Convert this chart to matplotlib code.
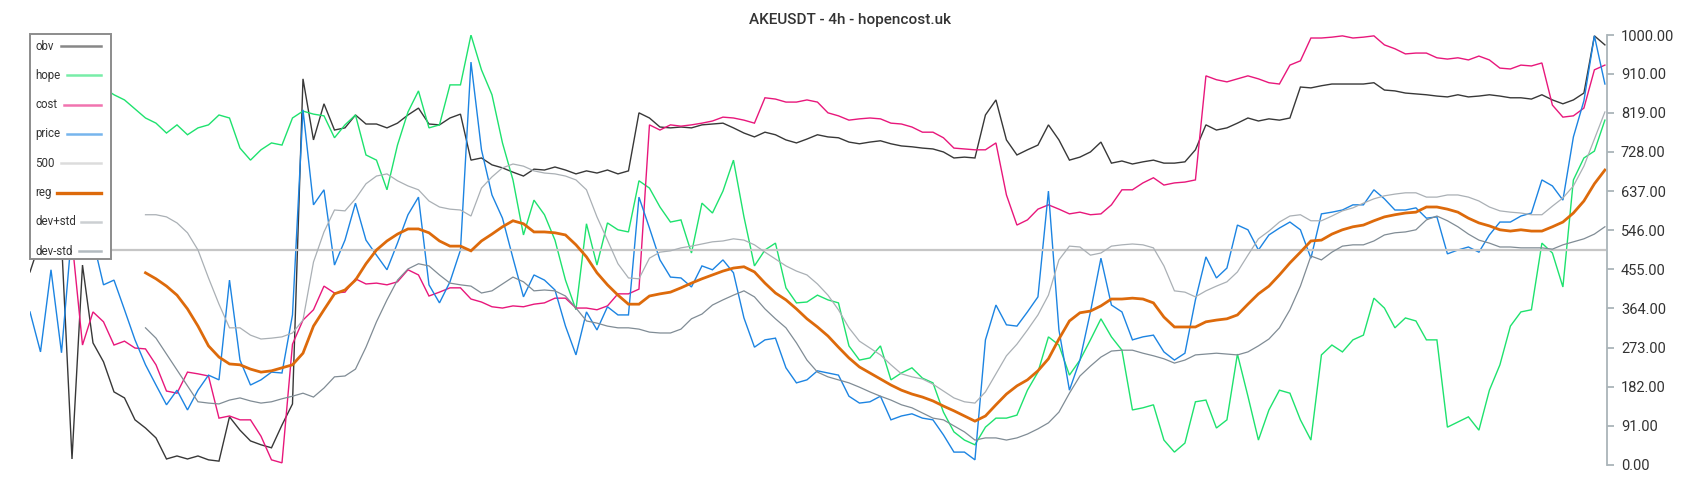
import numpy as np
import matplotlib
matplotlib.use("Agg")
import matplotlib.pyplot as plt
from matplotlib.patches import Rectangle
from matplotlib.lines import Line2D

nan = np.nan

title = "AKEUSDT - 4h - hopencost.uk"

obv = [449, 523, 535, 523, 14, 465, 284, 240, 170, 156,
       105, 86, 63, 14, 21, 14, 21, 12, 9, 112,
       81, 56, 47, 40, 93, 142, 898, 756, 840, 779,
       784, 814, 793, 793, 784, 795, 814, 830, 793, 791,
       807, 816, 709, 714, 698, 691, 681, 672, 688, 686,
       693, 686, 677, 684, 679, 686, 677, 684, 819, 807,
       786, 784, 786, 784, 791, 793, 795, 784, 772, 763,
       774, 768, 756, 749, 758, 768, 763, 761, 751, 747,
       751, 754, 747, 742, 740, 737, 735, 728, 714, 716,
       714, 814, 849, 756, 721, 733, 744, 791, 756, 709,
       716, 728, 751, 702, 707, 700, 705, 709, 702, 702,
       705, 733, 791, 779, 784, 795, 807, 800, 805, 802,
       807, 879, 877, 882, 886, 886, 886, 886, 889, 872,
       870, 865, 863, 861, 858, 856, 861, 856, 858, 861,
       858, 854, 854, 851, 861, 849, 840, 849, 865, 998,
       977]

hope = [919, 907, 896, 907, 884, 896, 884, 877, 861, 849,
        828, 807, 795, 772, 791, 768, 784, 791, 814, 807,
        737, 709, 733, 749, 744, 807, 823, 816, 812, 761,
        791, 814, 721, 709, 640, 744, 821, 870, 784, 791,
        884, 884, 1000, 919, 861, 749, 663, 535, 616, 582,
        523, 430, 361, 561, 465, 563, 547, 542, 661, 644,
        600, 565, 570, 493, 609, 586, 637, 709, 577, 463,
        500, 516, 412, 377, 379, 395, 384, 377, 277, 244,
        249, 277, 198, 214, 226, 202, 191, 123, 77, 58,
        47, 88, 109, 109, 116, 174, 216, 298, 279, 209,
        244, 291, 340, 298, 267, 128, 133, 140, 58, 30,
        51, 147, 151, 86, 105, 258, 160, 58, 128, 174,
        167, 105, 58, 256, 279, 263, 291, 302, 388, 365,
        319, 342, 335, 291, 291, 88, 100, 112, 81, 174,
        233, 323, 356, 361, 516, 493, 414, 663, 714, 730,
        802]

cost = [620, 610, 620, 600, 523, 279, 356, 333, 279, 288,
        272, 270, 233, 172, 167, 216, 212, 207, 109, 114,
        105, 105, 67, 12, 5, 281, 337, 361, 416, 400,
        402, 433, 421, 423, 419, 426, 454, 442, 393, 402,
        412, 412, 386, 379, 368, 365, 370, 368, 374, 377,
        388, 388, 365, 365, 361, 370, 398, 398, 409, 791,
        779, 791, 788, 791, 795, 800, 809, 807, 802, 795,
        854, 851, 844, 844, 849, 844, 819, 812, 802, 805,
        807, 805, 795, 793, 786, 774, 774, 761, 737, 735,
        733, 733, 749, 628, 558, 570, 595, 605, 595, 584,
        588, 582, 584, 605, 640, 640, 656, 668, 651, 656,
        658, 663, 905, 896, 891, 898, 905, 898, 889, 886,
        930, 940, 993, 993, 995, 998, 993, 995, 998, 977,
        968, 956, 958, 958, 947, 944, 947, 942, 951, 942,
        923, 921, 930, 928, 935, 837, 809, 812, 830, 919,
        930]

price = [356, 263, 454, 261, 547, 523, 523, 419, 430, 361,
         291, 233, 186, 140, 174, 128, 174, 209, 198, 430,
         244, 186, 198, 216, 214, 349, 826, 605, 640, 465,
         523, 609, 523, 488, 454, 516, 582, 623, 419, 377,
         426, 500, 937, 733, 628, 574, 481, 391, 442, 430,
         407, 323, 256, 356, 314, 368, 349, 349, 623, 551,
         477, 437, 435, 414, 463, 454, 477, 447, 342, 274,
         291, 295, 226, 191, 198, 219, 214, 209, 160, 144,
         147, 160, 105, 114, 119, 109, 105, 70, 30, 30,
         12, 291, 372, 326, 323, 356, 391, 637, 314, 174,
         244, 356, 481, 372, 356, 291, 298, 302, 263, 244,
         260, 384, 484, 435, 458, 558, 547, 500, 535, 551,
         565, 547, 481, 584, 588, 593, 605, 605, 640, 619,
         593, 593, 598, 574, 577, 491, 500, 507, 495, 535,
         565, 565, 579, 586, 663, 649, 616, 763, 847, 998,
         886]

level_500 = 500

reg = [nan, nan, nan, nan, nan, nan, nan, nan, nan, nan,
       nan, 447, 433, 416, 395, 363, 323, 277, 251, 235,
       233, 223, 216, 219, 226, 233, 260, 323, 361, 398,
       407, 430, 468, 500, 521, 537, 549, 549, 540, 521,
       509, 509, 498, 521, 537, 554, 568, 561, 542, 542,
       540, 535, 512, 484, 447, 419, 395, 374, 374, 393,
       398, 402, 412, 423, 433, 442, 451, 458, 461, 449,
       423, 400, 384, 363, 340, 321, 300, 274, 249, 228,
       214, 200, 186, 174, 165, 158, 149, 137, 126, 114,
       102, 114, 140, 165, 184, 198, 219, 247, 293, 335,
       354, 358, 370, 386, 386, 388, 386, 377, 344, 321,
       321, 321, 333, 337, 340, 349, 374, 398, 416, 442,
       470, 495, 521, 523, 537, 547, 554, 558, 568, 577,
       582, 586, 588, 600, 600, 595, 588, 574, 563, 556,
       547, 544, 547, 544, 544, 554, 565, 586, 614, 654,
       686]

dev_plus_std = [nan, nan, nan, nan, nan, nan, nan, nan, nan, nan,
                nan, 582, 582, 577, 563, 540, 500, 435, 374, 319,
                319, 302, 293, 295, 298, 307, 337, 472, 542, 593,
                591, 619, 654, 672, 677, 661, 649, 640, 614, 600,
                595, 593, 579, 644, 670, 691, 700, 695, 684, 679,
                677, 672, 663, 640, 577, 523, 468, 435, 433, 481,
                495, 498, 505, 509, 514, 519, 521, 526, 523, 512,
                495, 479, 463, 451, 442, 421, 395, 361, 319, 288,
                272, 256, 233, 212, 205, 200, 188, 172, 156, 147,
                144, 170, 212, 254, 281, 314, 349, 395, 477, 509,
                507, 488, 493, 509, 512, 514, 512, 505, 463, 405,
                402, 391, 405, 416, 426, 449, 488, 526, 544, 565,
                579, 582, 568, 568, 579, 591, 598, 609, 619, 626,
                630, 633, 633, 623, 623, 628, 628, 623, 614, 600,
                591, 588, 586, 582, 582, 602, 621, 649, 695, 758,
                821]

dev_minus_std = [nan, nan, nan, nan, nan, nan, nan, nan, nan, nan,
                 nan, 319, 295, 258, 221, 184, 147, 144, 142, 151,
                 156, 149, 144, 147, 154, 160, 167, 158, 179, 205,
                 207, 223, 274, 333, 384, 430, 456, 468, 463, 442,
                 423, 419, 416, 400, 405, 421, 437, 426, 405, 407,
                 405, 393, 365, 335, 330, 323, 319, 319, 316, 309,
                 307, 307, 316, 340, 351, 372, 384, 395, 405, 391,
                 363, 340, 319, 284, 244, 216, 205, 198, 191, 181,
                 170, 160, 151, 140, 133, 121, 109, 105, 91, 77,
                 58, 63, 63, 58, 63, 72, 84, 98, 123, 167,
                 207, 230, 251, 265, 267, 267, 260, 254, 247, 237,
                 244, 256, 258, 260, 258, 256, 263, 277, 293, 319,
                 361, 416, 486, 477, 495, 509, 512, 512, 521, 535,
                 540, 542, 547, 570, 579, 568, 554, 537, 523, 516,
                 507, 507, 505, 505, 505, 502, 512, 519, 526, 537,
                 554]

y_ticks = [0, 91, 182, 273, 364, 455, 546, 637, 728, 819, 910, 1000]
legend_labels = ["obv", "hope", "cost", "price", "500", "reg", "dev+std", "dev-std"]

plt.rcParams['font.family'] = ['Roboto', 'DejaVu Sans']

fig = plt.figure(figsize=(17, 5), dpi=100)
fig.patch.set_facecolor("white")
ax = fig.add_axes([30 / 1700, 35 / 500, (1607 - 30) / 1700, 430 / 500])

x = np.arange(len(price))
styles = [
    (obv, "#383838", 1.0),
    (hope, "#1ee26e", 1.0),
    (cost, "#e8177b", 1.0),
    (price, "#1c84e2", 1.0),
    ([level_500] * len(x), "#c6c6c6", 1.6),
    (reg, "#dd6a0b", 2.0),
    (dev_plus_std, "#aab0b5", 0.9),
    (dev_minus_std, "#808c95", 0.9),
]
for data, col, lw in styles:
    ax.plot(x, data, color=col, lw=lw, solid_joinstyle="miter")

ax.set_xlim(0, len(x) - 1 + 0.2)
ax.set_ylim(0, 1000)
ax.set_xticks([])
ax.yaxis.tick_right()
ax.set_yticks(y_ticks)
ax.set_yticklabels([f"{v:.2f}" for v in y_ticks])
for s in ("left", "top", "bottom"):
    ax.spines[s].set_visible(False)
ax.spines["right"].set_color("#aab4b9")
ax.spines["right"].set_linewidth(1.3)
ax.tick_params(axis="y", colors="#aab4b9", labelcolor="#333333",
               length=5, width=1.3, labelsize=10.5, pad=5)
ax.patch.set_alpha(0)

fig.text(0.5, 1 - 20 / 500, title, ha="center", va="center",
         fontsize=11, fontweight="medium", color="#333333")

# legend box (text left, swatch right)
W, H = 1700, 500
def fx(px):
    return px / W
def fy(py):
    return 1 - py / H

fig.add_artist(Rectangle((fx(30), fy(259)), 81 / W, 225 / H,
                         transform=fig.transFigure, facecolor="white",
                         edgecolor="#8c8c8c", lw=1.4, zorder=5))
swatch_start = [60.5, 66.5, 63.5, 66.5, 60.5, 57.5, 81, 79]
for k, (lab, (data, col, lw)) in enumerate(zip(legend_labels, styles)):
    yy = 46 + 29.3 * k
    fig.text(fx(35), fy(yy), lab, ha="left", va="center", fontsize=8.3,
             color="#333333", zorder=6)
    alpha = 1.0 if lab == "reg" else 0.6
    slw = 2.4 if lab == "reg" else 1.8
    fig.add_artist(Line2D([fx(swatch_start[k]), fx(101)], [fy(yy), fy(yy)],
                          transform=fig.transFigure, color=col, lw=slw,
                          alpha=alpha, zorder=6))

fig.savefig("out.png", dpi=100, facecolor="white")
